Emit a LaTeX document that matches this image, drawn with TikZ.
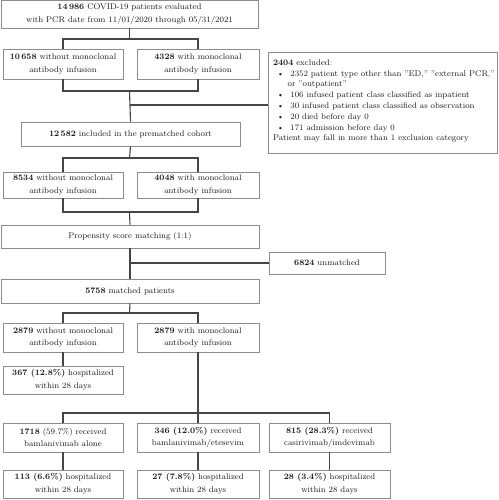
\documentclass[tikz,border=0pt]{standalone}
\usetikzlibrary{calc}
\definecolor{boxline}{HTML}{8C8C8C}
\definecolor{conn}{HTML}{454545}
\definecolor{txt}{HTML}{1E1E1E}
\newcommand{\bitem}{\hspace*{4pt}\textbullet\hspace{6.5pt}}
\newcommand{\bcont}{\hspace*{14.7pt}}
\newcommand{\exline}[1]{\hbox to 225pt{\hspace*{3pt}#1\hfil}}
\begin{document}
\begin{tikzpicture}[x=1pt,y=-1pt,
  box/.style={draw=boxline,line width=0.7pt,rectangle,inner sep=1pt,align=center,text=txt,
    font=\fontsize{8.3}{12.6}\selectfont},
  conline/.style={draw=conn,line width=1.1pt}]
\useasboundingbox (0,0) rectangle (498,500);
\fill[white] (0,0) rectangle (498,500);
% nodes
\node[box,minimum width=257pt,minimum height=28pt] (top) at (129.5,14) {\textbf{14\,986} COVID-19 patients evaluated\\with PCR date from 11/01/2020 through 05/31/2021};
\node[box,minimum width=120pt,minimum height=30pt] (a1) at (63,64) {\textbf{10\,658} without monoclonal\\antibody infusion};
\node[box,minimum width=122pt,minimum height=30pt] (a2) at (198,64) {\textbf{4328} with monoclonal\\antibody infusion};
\node[draw=boxline,line width=0.7pt,rectangle,inner sep=0pt,text=txt,minimum width=229pt,minimum height=101pt] (excl) at (382.5,102.5) {%
\fontsize{8.3}{10.8}\selectfont
\vbox to 86pt{\baselineskip=10.8pt\lineskiplimit=-5pt
\exline{\textbf{2404} excluded:}
\exline{\bitem 2352 patient type other than "ED," "external PCR,"}
\exline{\bcont or "outpatient"}
\exline{\bitem 106 infused patient class classified as inpatient}
\exline{\bitem 30 infused patient class classified as observation}
\exline{\bitem 20 died before day 0}
\exline{\bitem 171 admission before day 0}
\exline{Patient may fall in more than 1 exclusion category}\vss}};
\node[box,minimum width=219pt,minimum height=24pt] (inc) at (130.5,134) {\textbf{12\,582} included in the prematched cohort};
\node[box,minimum width=120pt,minimum height=26pt] (b1) at (63,185) {\textbf{8534} without monoclonal\\antibody infusion};
\node[box,minimum width=122pt,minimum height=26pt] (b2) at (198,185) {\textbf{4048} with monoclonal\\antibody infusion};
\node[box,minimum width=258pt,minimum height=23pt] (prop) at (130,236.5) {Propensity score matching (1:1)};
\node[box,minimum width=116pt,minimum height=22pt] (unm) at (327,263) {\textbf{6824} unmatched};
\node[box,minimum width=258pt,minimum height=24pt] (mat) at (130,291) {\textbf{5758} matched patients};
\node[box,minimum width=120pt,minimum height=29pt] (c1) at (63,337.5) {\textbf{2879} without monoclonal\\antibody infusion};
\node[box,minimum width=122pt,minimum height=29pt] (c2) at (198,337.5) {\textbf{2879} with monoclonal\\antibody infusion};
\node[box,minimum width=120pt,minimum height=28pt] (h1) at (63,380) {\textbf{367 (12.8\%)} hospitalized\\within 28 days};
\node[box,minimum width=120pt,minimum height=29pt] (d1) at (63,437.5) {\textbf{1718} (59.7\%) received\\bamlanivimab alone};
\node[box,minimum width=122pt,minimum height=29pt] (d2) at (198,437.5) {\textbf{346 (12.0\%)} received\\bamlanivimab/etesevim};
\node[box,minimum width=121pt,minimum height=29pt] (d3) at (329.5,437.5) {\textbf{815 (28.3\%)} received\\casirivimab/imdevimab};
\node[box,minimum width=120pt,minimum height=28pt] (e1) at (63,484) {\textbf{113 (6.6\%)} hospitalized\\within 28 days};
\node[box,minimum width=122pt,minimum height=28pt] (e2) at (198,484) {\textbf{27 (7.8\%)} hospitalized\\within 28 days};
\node[box,minimum width=121pt,minimum height=28pt] (e3) at (329.5,484) {\textbf{28 (3.4\%)} hospitalized\\within 28 days};
% junctions
\coordinate (j1) at (129.5,39);
\coordinate (j2) at (129.5,91);
\coordinate (j3) at (129.5,105);
\coordinate (j4) at (129.5,158);
\coordinate (j5) at (129.5,212);
\coordinate (j6) at (129.5,263);
\coordinate (j7) at (129.5,313);
\coordinate (j8) at (198,413);
% connectors
\draw[conline] (top.south) -- (j1);
\draw[conline] (a1.north) |- (j1) -| (a2.north);
\draw[conline] (a1.south) |- (j2) -| (a2.south);
\draw[conline] (j2) -- (inc.north);
\draw[conline] (j3) -- (j3 -| excl.west);
\draw[conline] (inc.south) -- (j4);
\draw[conline] (b1.north) |- (j4) -| (b2.north);
\draw[conline] (b1.south) |- (j5) -| (b2.south);
\draw[conline] (j5) -- (prop.north);
\draw[conline] (prop.south) -- (mat.north);
\draw[conline] (j6) -- (unm.west);
\draw[conline] (mat.south) -- (j7);
\draw[conline] (c1.north) |- (j7) -| (c2.north);
\draw[conline] (c1.south) -- (h1.north);
\draw[conline] (c2.south) -- (j8);
\draw[conline] (d1.north) |- (j8) -| (d3.north);
\draw[conline] (j8) -- (d2.north);
\draw[conline] (d1.south) -- (e1.north);
\draw[conline] (d2.south) -- (e2.north);
\draw[conline] (d3.south) -- (e3.north);
\end{tikzpicture}
\end{document}
